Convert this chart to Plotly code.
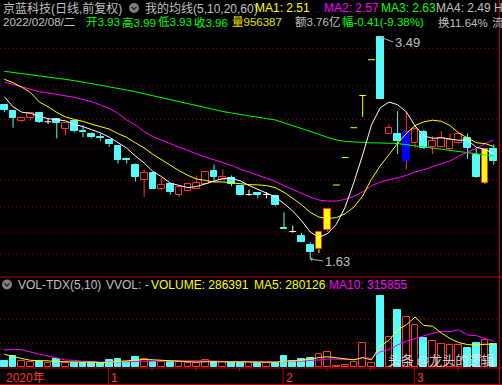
import plotly.graph_objects as go

W, H = 502, 385

# ---------------- data ----------------
opens = [2.92, 2.87, 2.79, 2.81, 2.85, 2.78, 2.80, 2.72, 2.79, 2.70,
         2.68, 2.65, 2.63, 2.58, 2.47, 2.42, 2.29, 2.35, 2.22, 2.26,
         2.17, 2.20, 2.22, 2.26, 2.37, 2.29, 2.31, 2.24, 2.17, 2.18,
         2.17, 2.16, 1.89, 1.86, 1.82, 1.75, 1.71, 1.87, 2.25, 2.48,
         2.73, 3.00, 3.30, 3.49, 2.68, 2.68, 2.45, 2.60, 2.69, 2.57,
         2.57, 2.55, 2.60, 2.64, 2.50, 2.27, 2.55]
highs = [2.93, 2.87, 2.82, 2.85, 2.85, 2.81, 2.80, 2.77, 2.79, 2.75,
         2.69, 2.68, 2.63, 2.58, 2.48, 2.43, 2.38, 2.35, 2.31, 2.26,
         2.24, 2.26, 2.33, 2.36, 2.42, 2.38, 2.33, 2.25, 2.21, 2.19,
         2.19, 2.17, 2.02, 1.91, 1.85, 1.77, 1.86, 2.05, 2.25, 2.48,
         2.73, 3.00, 3.30, 3.49, 2.76, 2.87, 2.86, 2.74, 2.71, 2.66,
         2.70, 2.68, 2.69, 2.68, 2.56, 2.55, 2.59]
lows = [2.86, 2.73, 2.78, 2.79, 2.77, 2.76, 2.64, 2.67, 2.69, 2.65,
        2.64, 2.62, 2.57, 2.43, 2.43, 2.28, 2.15, 2.22, 2.21, 2.17,
        2.15, 2.20, 2.22, 2.26, 2.28, 2.29, 2.24, 2.17, 2.16, 2.14,
        2.14, 2.07, 1.88, 1.85, 1.77, 1.63, 1.68, 1.86, 2.25, 2.48,
        2.73, 2.82, 3.30, 2.97, 2.68, 2.51, 2.38, 2.56, 2.55, 2.51,
        2.57, 2.53, 2.59, 2.47, 2.31, 2.26, 2.42]
closes = [2.88, 2.81, 2.81, 2.85, 2.78, 2.78, 2.77, 2.77, 2.70, 2.69,
          2.65, 2.64, 2.59, 2.46, 2.46, 2.32, 2.35, 2.22, 2.25, 2.19,
          2.23, 2.26, 2.27, 2.36, 2.32, 2.32, 2.26, 2.17, 2.17, 2.17,
          2.17, 2.08, 1.88, 1.86, 1.77, 1.69, 1.86, 2.05, 2.25, 2.48,
          2.73, 3.00, 3.30, 2.97, 2.73, 2.62, 2.69, 2.72, 2.56, 2.62,
          2.64, 2.63, 2.68, 2.56, 2.32, 2.55, 2.45]
volumes = [73800, 135300, 73800, 61500, 61500, 45500, 94700, 52900, 52900, 52900,
           52900, 52900, 86100, 98400, 57800, 123000, 98400, 65200, 65200, 65200,
           65200, 52900, 52900, 86100, 65200, 65200, 65200, 65200, 65200, 52900,
           52900, 52900, 135300, 77500, 98400, 110700, 159900, 184500, 12300, 24600,
           61500, 291500, 45500, 873300, 365300, 701100, 611300, 516600, 360400, 319800,
           282900, 270600, 270600, 233700, 291500, 332100, 286391]
ma5 = [2.990, 2.905, 2.860, 2.850, 2.826, 2.806, 2.797, 2.788, 2.758, 2.739,
       2.713, 2.687, 2.651, 2.604, 2.559, 2.493, 2.435, 2.363, 2.320, 2.265,
       2.246, 2.228, 2.237, 2.259, 2.286, 2.305, 2.306, 2.284, 2.246, 2.216,
       2.185, 2.150, 2.094, 2.032, 1.952, 1.856, 1.811, 1.844, 1.922, 2.065,
       2.273, 2.502, 2.752, 2.896, 2.945, 2.923, 2.862, 2.745, 2.662, 2.641,
       2.646, 2.633, 2.625, 2.626, 2.566, 2.548, 2.512]
ma10 = [3.136, 3.107, 3.070, 3.025, 2.945, 2.906, 2.858, 2.820, 2.800, 2.783,
        2.759, 2.742, 2.719, 2.681, 2.649, 2.603, 2.561, 2.507, 2.462, 2.412,
        2.370, 2.331, 2.300, 2.289, 2.275, 2.276, 2.267, 2.261, 2.253, 2.251,
        2.245, 2.228, 2.189, 2.139, 2.084, 2.021, 1.981, 1.969, 1.977, 2.009,
        2.065, 2.157, 2.298, 2.409, 2.505, 2.598, 2.682, 2.749, 2.779, 2.793,
        2.784, 2.748, 2.685, 2.644, 2.604, 2.597, 2.573]
ma20 = [3.113, 3.094, 3.074, 3.053, 3.032, 3.021, 3.010, 2.998, 2.985, 2.966,
        2.948, 2.920, 2.893, 2.851, 2.795, 2.753, 2.697, 2.655, 2.625, 2.597,
        2.564, 2.537, 2.510, 2.485, 2.462, 2.439, 2.414, 2.384, 2.357, 2.331,
        2.308, 2.280, 2.245, 2.214, 2.180, 2.148, 2.124, 2.115, 2.115, 2.130,
        2.155, 2.192, 2.244, 2.274, 2.295, 2.309, 2.331, 2.359, 2.378, 2.401,
        2.424, 2.452, 2.492, 2.527, 2.554, 2.597, 2.627]
ma60 = [3.203, 3.194, 3.184, 3.175, 3.165, 3.152, 3.143, 3.134, 3.125, 3.112,
        3.100, 3.087, 3.073, 3.058, 3.046, 3.031, 3.014, 2.996, 2.980, 2.964,
        2.950, 2.933, 2.916, 2.900, 2.882, 2.866, 2.853, 2.840, 2.828, 2.817,
        2.806, 2.795, 2.772, 2.748, 2.722, 2.697, 2.675, 2.648, 2.628, 2.615,
        2.610, 2.606, 2.604, 2.602, 2.600, 2.598, 2.588, 2.577, 2.568, 2.558,
        2.550, 2.540, 2.531, 2.521, 2.510, 2.502, 2.493]
vol_ma5 = [156200, 126700, 104600, 82400, 81200, 75500, 67400, 63200, 61500, 59800,
           61300, 52900, 59500, 68600, 69600, 83600, 92700, 88600, 81900, 83400,
           71800, 62700, 60300, 64500, 64500, 64500, 66900, 69400, 65200, 62700,
           60300, 57800, 71800, 74300, 83400, 95000, 116400, 126200, 113200, 98400,
           88600, 114900, 87100, 259300, 327400, 455300, 519300, 613500, 510900, 501800,
           418200, 350100, 300900, 275500, 269900, 279700, 280126]
vol_ma10 = [209100, 217700, 212800, 180800, 156200, 135300, 107000, 86100, 82400, 70500,
            68400, 60100, 61400, 65100, 64700, 72400, 72800, 74000, 75300, 76500,
            77700, 77700, 74400, 73200, 73900, 68100, 64800, 64800, 64800, 63600,
            62400, 62400, 70600, 69700, 73100, 77600, 87100, 99000, 93700, 90900,
            91800, 115600, 106600, 186200, 212900, 272000, 317100, 350300, 385100, 414600,
            436800, 434700, 457200, 393200, 385900, 349000, 315855]
grid_levels = [3.395, 3.082, 2.800, 2.552, 2.289, 2.066, 1.856, 1.669]
vol_grid_levels = [291500, 586700]
month_labels = ["2020年", "1", "2", "3"]
month_starts = [0, 12, 32, 47]
week_ticks = [17, 22, 27, 37, 42, 52]

# ---------------- style ----------------
RED = "#ff3232"; CYAN = "#54fcfc"; YEL = "#ffff00"; MAG = "#ff00ff"
GRN = "#00ff00"; GRAY = "#c0c0c0"; WHITE = "#ffffff"; BLUE = "#0000ff"
GRID = "#a00000"
FONT = "Liberation Sans, Noto Sans CJK SC, sans-serif"
MARKED = 46
HALF = 0.385


def pxx(x):
    return x / W


def pyy(y):
    return (H - y) / H


n = len(closes)
xs = list(range(n))
limit_up = [i > 0 and closes[i] >= closes[i - 1] * 1.1 - 0.012 for i in xs]

wicks = {}
dashes = {}
bx, bbase, bh, bfill, bline = [], [], [], [], []


def seg(store, color, x0, y0, x1, y1):
    sx, sy = store.setdefault(color, ([], []))
    sx += [x0, x1, None]
    sy += [y0, y1, None]


for i in xs:
    o, h, l, c = opens[i], highs[i], lows[i], closes[i]
    if limit_up[i]:
        wc, fill, line = YEL, YEL, RED
    elif i == MARKED:
        wc, fill, line = RED, BLUE, BLUE
    elif c > o:
        wc, fill, line = RED, "#000000", RED
    elif c < o:
        wc, fill, line = CYAN, CYAN, CYAN
    else:
        wc, fill, line = WHITE, WHITE, WHITE
    top, bot = max(o, c), min(o, c)
    if h > top:
        seg(wicks, wc, i, top, i, h)
    if l < bot:
        seg(wicks, wc, i, l, i, bot)
    if c != o:
        bx.append(i); bbase.append(bot); bh.append(top - bot)
        bfill.append(fill); bline.append(line)
    else:
        seg(dashes, wc, i - HALF, c, i + HALF, c)

fig = go.Figure()

for color, (sx, sy) in wicks.items():
    fig.add_trace(go.Scatter(x=sx, y=sy, mode="lines", line=dict(color=color, width=1),
                             hoverinfo="skip", yaxis="y"))
for color, (sx, sy) in dashes.items():
    fig.add_trace(go.Scatter(x=sx, y=sy, mode="lines", line=dict(color=color, width=1),
                             hoverinfo="skip", yaxis="y"))
fig.add_trace(go.Bar(x=bx, y=bh, base=bbase, width=0.77,
                     marker=dict(color=bfill, line=dict(color=bline, width=1)),
                     hoverinfo="skip", yaxis="y"))

for arr, col in [(ma60, GRN), (ma20, MAG), (ma10, YEL), (ma5, WHITE)]:
    fig.add_trace(go.Scatter(x=xs, y=arr, mode="lines", line=dict(color=col, width=1),
                             hoverinfo="skip", yaxis="y"))

# volume
vup = []
for i in xs:
    c, o = closes[i], opens[i]
    prev = closes[i - 1] if i > 0 else c
    vup.append(c > o or (c == o and c >= prev))
fig.add_trace(go.Bar(x=xs, y=volumes, width=0.77,
                     marker=dict(color=["#000000" if u else CYAN for u in vup],
                                 line=dict(color=[RED if u else CYAN for u in vup], width=1)),
                     hoverinfo="skip", yaxis="y2"))
fig.add_trace(go.Scatter(x=xs, y=vol_ma10, mode="lines", line=dict(color=MAG, width=1),
                         hoverinfo="skip", yaxis="y2"))
fig.add_trace(go.Scatter(x=xs, y=vol_ma5, mode="lines", line=dict(color=YEL, width=1),
                         hoverinfo="skip", yaxis="y2"))

shapes = []
for g in grid_levels:
    shapes.append(dict(type="line", xref="paper", yref="y", x0=0, x1=pxx(499), y0=g, y1=g,
                       line=dict(color=GRID, width=1, dash="1px,3px"), layer="below"))
for g in vol_grid_levels:
    shapes.append(dict(type="line", xref="paper", yref="y2", x0=0, x1=pxx(499), y0=g, y1=g,
                       line=dict(color=GRID, width=1, dash="1px,3px"), layer="below"))
# panel frame lines
for yy in (277, 368, 384.5):
    shapes.append(dict(type="line", xref="paper", yref="paper", x0=0, x1=1,
                       y0=pyy(yy), y1=pyy(yy), line=dict(color="#c00000", width=1)))
shapes.append(dict(type="line", xref="paper", yref="paper", x0=pxx(499.5), x1=pxx(499.5),
                   y0=0, y1=1, line=dict(color="#c00000", width=1)))
for m in month_starts[1:]:
    shapes.append(dict(type="line", xref="x", yref="paper", x0=m - 0.1, x1=m - 0.1,
                       y0=pyy(385), y1=pyy(368), line=dict(color="#c00000", width=1)))
for t in week_ticks:
    shapes.append(dict(type="line", xref="x", yref="paper", x0=t - 0.1, x1=t - 0.1,
                       y0=pyy(371), y1=pyy(368), line=dict(color="#c00000", width=1)))
# icons
for cx, cy in [(134, 8), (7, 284.5)]:
    shapes.append(dict(type="circle", xref="paper", yref="paper",
                       x0=pxx(cx - 5), x1=pxx(cx + 5), y0=pyy(cy + 5), y1=pyy(cy - 5),
                       fillcolor="#808080", line=dict(width=0)))
    shapes.append(dict(type="path", xref="paper", yref="paper",
                       path="M %f,%f L %f,%f L %f,%f" % (pxx(cx - 2.5), pyy(cy - 1.2), pxx(cx), pyy(cy + 1.5),
                                                        pxx(cx + 2.5), pyy(cy - 1.2)),
                       line=dict(color="#2a2a2a", width=1.5)))

ann = []


def txt(s, x, y, color, size=12):
    ann.append(dict(text=s, x=pxx(x), y=pyy(y), xref="paper", yref="paper", xanchor="left",
                    yanchor="middle", showarrow=False, font=dict(family=FONT, size=size, color=color)))


txt("京蓝科技(日线,前复权)", 1, 8, GRAY, 12)
txt("我的均线(5,10,20,60)", 143, 8, GRAY, 12)
txt("MA1: %.2f" % ma5[-1], 253, 8, YEL)
txt("MA2: %.2f" % ma10[-1], 322, 8, MAG)
txt("MA3: %.2f" % ma20[-1], 379, 8, GRN)
txt("MA4: %.2f" % ma60[-1], 434, 8, GRAY)
txt("H", 492, 8, GRAY)
L2 = 11.5
txt("2022/02/08/二", 1, 22, GRAY, L2)
txt("开3.93", 84, 22, GRN, L2)
txt("高3.99", 120, 22, GRN, L2)
txt("低3.93", 156, 22, GRN, L2)
txt("收3.96", 192, 22, GRN, L2)
txt("量956387", 230, 22, "#e0e000", L2)
txt("额3.76亿", 293, 22, GRAY, L2)
txt("幅-0.41(-9.38%)", 340, 22, GRN, L2)
txt("换11.64%", 436, 22, GRAY, L2)
txt("流", 490, 22, GRAY, L2)

txt("VOL-TDX(5,10)", 16, 284.5, GRAY, 12)
txt("VVOL: -", 104, 284.5, GRAY, 12)
txt("VOLUME: %d" % volumes[-1], 149, 284.5, YEL, 12)
txt("MA5: %d" % vol_ma5[-1], 252, 284.5, YEL, 12)
txt("MA10: %d" % vol_ma10[-1], 327, 284.5, MAG, 12)

for lab, m in zip(month_labels, month_starts):
    ann.append(dict(text=lab, x=m - 0.1, y=pyy(378), xref="x", yref="paper", xanchor="left",
                    yanchor="middle", xshift=1, showarrow=False,
                    font=dict(family=FONT, size=12, color="#ff3232")))

ann.append(dict(text="头条 @龙头的逻辑", x=pxx(386), y=pyy(359.5), xref="paper", yref="paper",
                xanchor="left", yanchor="middle", showarrow=False,
                font=dict(family="Noto Sans CJK SC, sans-serif", size=13, color="rgba(235,235,235,0.9)")))

ih = highs.index(max(highs))
il = lows.index(min(lows))
for i, val, ay in [(ih, highs[ih], 5), (il, lows[il], 2)]:
    ann.append(dict(text="%.2f" % val, x=i, y=val, xref="x", yref="y", showarrow=True,
                    ax=13, ay=ay, xanchor="left", arrowhead=1, arrowsize=0.7, arrowwidth=1,
                    arrowcolor="#b0b0b0", font=dict(family=FONT, size=13, color=GRAY)))

fig.update_layout(
    width=W, height=H, margin=dict(l=0, r=0, t=0, b=0),
    paper_bgcolor="#000000", plot_bgcolor="#000000", showlegend=False,
    barmode="overlay", bargap=0,
    xaxis=dict(domain=[0, pxx(499)], range=[-0.495, 56.6], visible=False, fixedrange=True),
    yaxis=dict(domain=[pyy(270), pyy(30)], range=[1.5378, 3.5487], visible=False),
    yaxis2=dict(domain=[pyy(367), pyy(290)], range=[0, 947100], visible=False, anchor="x"),
    shapes=shapes, annotations=ann,
)

fig.write_html("out.html")
